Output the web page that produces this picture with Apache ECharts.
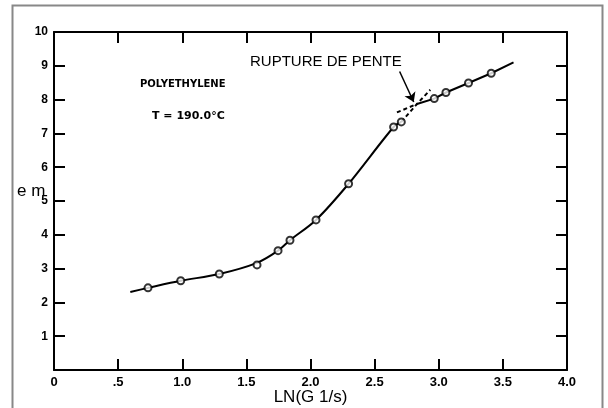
<!DOCTYPE html>
<html>
<head>
<meta charset="utf-8">
<script src="https://cdn.jsdelivr.net/npm/echarts@6/dist/echarts.min.js"></script>
<style>
    html, body { margin: 0; padding: 0; background: #fff; }
    #chart { width: 608px; height: 408px; }
</style>
</head>
<body>
<div id="chart"></div>
<script>
    // measured points (open circles)
    var pointX = [0.733, 0.988, 1.289, 1.583, 1.747, 1.840, 2.043, 2.297, 2.648, 2.708, 2.965, 3.056, 3.232, 3.409];
    var pointY = [2.43, 2.64, 2.84, 3.11, 3.53, 3.84, 4.44, 5.51, 7.19, 7.34, 8.03, 8.21, 8.49, 8.78];

    // hand drawn curve, lower branch (solid)
    var lowX = [0.595, 0.733, 0.988, 1.289, 1.583, 1.747, 1.840, 2.043, 2.297, 2.648, 2.708];
    var lowY = [2.31, 2.43, 2.64, 2.84, 3.17, 3.53, 3.84, 4.44, 5.51, 7.19, 7.34];

    // upper branch after the slope break (solid)
    var highX = [2.830, 2.965, 3.056, 3.232, 3.409, 3.583];
    var highY = [7.87, 8.03, 8.21, 8.49, 8.78, 9.10];

    // dashed extensions around the break
    var lowDashX = [2.708, 2.830, 2.934];
    var lowDashY = [7.34, 7.87, 8.29];
    var highDashX = [2.674, 2.830];
    var highDashY = [7.62, 7.87];

    // arrow "RUPTURE DE PENTE"
    var arrowFrom = [2.695, 8.83];
    var arrowTo = [2.805, 7.93];

    var xTicks = ['0', '.5', '1.0', '1.5', '2.0', '2.5', '3.0', '3.5', '4.0'];

    function pairs(xs, ys) {
        var out = [];
        for (var i = 0; i < xs.length; i++) {
            out.push([xs[i], ys[i]]);
        }
        return out;
    }

    var axisLine = { show: true, onZero: false, lineStyle: { color: '#000', width: 2 } };
    var axisTick = { show: true, inside: true, length: 11, lineStyle: { color: '#000', width: 2 } };

    var option = {
        backgroundColor: '#fff',
        animation: false,
        grid: { left: 54, right: 41, top: 32, bottom: 38, outerBoundsMode: 'none', containLabel: false },
        xAxis: [
            {
                type: 'value',
                position: 'bottom',
                min: 0,
                max: 4,
                interval: 0.5,
                axisLine: axisLine,
                axisTick: axisTick,
                splitLine: { show: false },
                axisLabel: {
                    margin: 6,
                    fontSize: 13,
                    color: '#000',
                    fontFamily: 'Liberation Sans',
                    fontWeight: 'bold',
                    formatter: function (v) {
                        return xTicks[Math.round(v * 2)];
                    }
                },
                name: 'LN(G 1/s)',
                nameLocation: 'middle',
                nameGap: 19,
                nameMoveOverlap: false,
                nameTextStyle: { color: '#000', fontSize: 17, fontFamily: 'Liberation Sans' }
            },
            {
                type: 'value',
                position: 'top',
                min: 0,
                max: 4,
                interval: 0.5,
                axisLine: axisLine,
                axisTick: axisTick,
                axisLabel: { show: false },
                splitLine: { show: false }
            }
        ],
        yAxis: [
            {
                type: 'value',
                position: 'left',
                min: 0,
                max: 10,
                interval: 1,
                axisLine: axisLine,
                axisTick: axisTick,
                splitLine: { show: false },
                axisLabel: {
                    margin: 6,
                    fontSize: 12,
                    showMinLabel: false,
                    color: '#000',
                    fontFamily: 'Liberation Sans',
                    fontWeight: 'bold'
                }
            },
            {
                type: 'value',
                position: 'right',
                min: 0,
                max: 10,
                interval: 1,
                axisLine: axisLine,
                axisTick: axisTick,
                axisLabel: { show: false },
                splitLine: { show: false }
            }
        ],
        graphic: [
            {
                type: 'rect',
                shape: { x: 12.5, y: 5.5, width: 590, height: 410 },
                style: { fill: 'none', stroke: '#888', lineWidth: 2 },
                silent: true
            },
            {
                type: 'text',
                left: 17,
                top: 183,
                style: { text: 'e m', fill: '#000', font: '17px "Liberation Sans"' }
            },
            {
                type: 'text',
                left: 250,
                top: 54,
                style: { text: 'RUPTURE DE PENTE', fill: '#000', font: '15px "Liberation Sans"' }
            },
            {
                type: 'text',
                left: 140,
                top: 79,
                style: { text: 'POLYETHYLENE', fill: '#000', font: 'bold 10px "DejaVu Sans"' }
            },
            {
                type: 'text',
                left: 152,
                top: 111,
                style: { text: 'T = 190.0°C', fill: '#000', font: 'bold 11px "DejaVu Sans"' }
            }
        ],
        series: [
            {
                name: 'courbe',
                type: 'line',
                data: pairs(lowX, lowY),
                smooth: 0.3,
                showSymbol: false,
                lineStyle: { color: '#000', width: 2 },
                z: 2
            },
            {
                name: 'pente 2',
                type: 'line',
                data: pairs(highX, highY),
                showSymbol: false,
                lineStyle: { color: '#000', width: 2 },
                z: 2
            },
            {
                name: 'prolongement 1',
                type: 'line',
                data: pairs(lowDashX, lowDashY),
                showSymbol: false,
                lineStyle: { color: '#000', width: 2, type: [4, 3] },
                z: 2
            },
            {
                name: 'prolongement 2',
                type: 'line',
                data: pairs(highDashX, highDashY),
                showSymbol: false,
                lineStyle: { color: '#000', width: 2, type: [4, 3] },
                z: 2,
                markLine: {
                    silent: true,
                    symbol: ['none', 'arrow'],
                    symbolSize: 9,
                    label: { show: false },
                    lineStyle: { color: '#000', width: 1.5, type: 'solid' },
                    data: [[{ coord: arrowFrom }, { coord: arrowTo }]]
                }
            },
            {
                name: 'mesures',
                type: 'scatter',
                data: pairs(pointX, pointY),
                symbol: 'emptyCircle',
                symbolSize: 7,
                itemStyle: { color: '#000', borderWidth: 1.3 },
                z: 3
            }
        ]
    };

    var chart = echarts.init(document.getElementById('chart'));
    chart.setOption(option);
</script>
</body>
</html>
